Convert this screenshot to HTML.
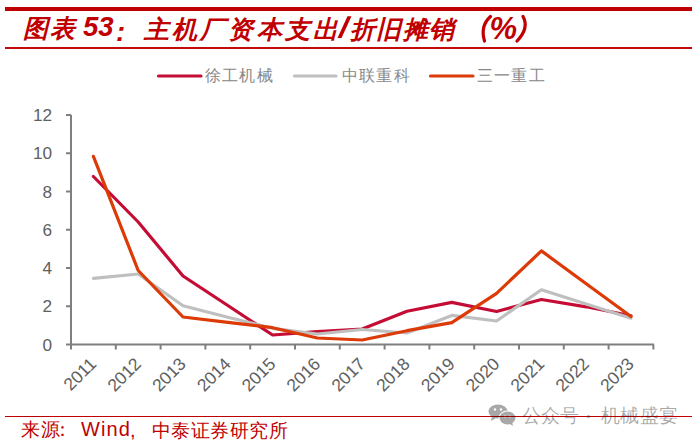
<!DOCTYPE html>
<html><head><meta charset="utf-8"><style>
html,body{margin:0;padding:0;background:#fff;width:700px;height:444px;overflow:hidden}
body{position:relative;font-family:"Liberation Sans",sans-serif}
.ab{position:absolute}
.t{font-weight:bold;font-style:italic;color:#c00000;white-space:nowrap;line-height:normal}
.leg{font-size:16px;color:#888888;letter-spacing:1.2px;white-space:nowrap;line-height:18px}
.src{font-size:19px;color:#c00000;white-space:nowrap;line-height:normal}
.wm{z-index:5;font-size:18.5px;color:rgba(0,0,0,0.34);white-space:nowrap;line-height:normal}
</style></head><body>
<div class="ab" style="left:5px;top:7px;width:687px;height:4px;background:#c00000"></div>
<span class="ab t" style="left:23px;top:12.2px;font-size:25px;letter-spacing:2px">图表</span><span class="ab t" style="left:83px;top:11px;font-size:27.5px;letter-spacing:0px">53</span><span class="ab t" style="left:116px;top:15.5px;font-size:27.5px;letter-spacing:0px">:</span><span class="ab t" style="left:143.5px;top:12.8px;font-size:25px;letter-spacing:3.3px">主机厂资本支出</span><span class="ab t" style="left:350px;top:12.6px;font-size:25px;letter-spacing:1.4px">折旧摊销</span><span class="ab t" style="left:489.5px;top:10.8px;font-size:31px;letter-spacing:0px">%</span>
<div class="ab" style="left:5px;top:47px;width:687px;height:2px;background:#c40a0a"></div>
<svg class="ab" style="left:0;top:0" width="700" height="444" viewBox="0 0 700 444">
<polygon points="337.5,38 341.5,38 351.5,16.3 347.5,16.3" fill="#c00000"/>
<path d="M490.5,16.5 Q480,26 484.5,41" stroke="#c00000" stroke-width="3.2" fill="none" stroke-linecap="round"/>
<path d="M523,16.5 Q529.5,28 517,41" stroke="#c00000" stroke-width="3.2" fill="none" stroke-linecap="round"/>
<g stroke-linecap="round" stroke-width="3.2" fill="none">
<line x1="158.5" y1="76" x2="201" y2="76" stroke="#c40c34"/>
<line x1="294.5" y1="76" x2="336" y2="76" stroke="#bfbfbf"/>
<line x1="430.5" y1="76" x2="473" y2="76" stroke="#dc3a06"/>
</g>
<g stroke="#7f7f7f" stroke-width="2" fill="none">
<line x1="71" y1="115" x2="71" y2="345.5"/>
<line x1="70" y1="344.5" x2="654" y2="344.5"/>
<line x1="71.0" y1="344.5" x2="71.0" y2="349.5"/><line x1="115.8" y1="344.5" x2="115.8" y2="349.5"/><line x1="160.6" y1="344.5" x2="160.6" y2="349.5"/><line x1="205.4" y1="344.5" x2="205.4" y2="349.5"/><line x1="250.2" y1="344.5" x2="250.2" y2="349.5"/><line x1="295.0" y1="344.5" x2="295.0" y2="349.5"/><line x1="339.8" y1="344.5" x2="339.8" y2="349.5"/><line x1="384.6" y1="344.5" x2="384.6" y2="349.5"/><line x1="429.4" y1="344.5" x2="429.4" y2="349.5"/><line x1="474.2" y1="344.5" x2="474.2" y2="349.5"/><line x1="519.0" y1="344.5" x2="519.0" y2="349.5"/><line x1="563.8" y1="344.5" x2="563.8" y2="349.5"/><line x1="608.6" y1="344.5" x2="608.6" y2="349.5"/><line x1="653.4" y1="344.5" x2="653.4" y2="349.5"/><line x1="66" y1="344.50" x2="71" y2="344.50"/><line x1="66" y1="306.25" x2="71" y2="306.25"/><line x1="66" y1="268.00" x2="71" y2="268.00"/><line x1="66" y1="229.75" x2="71" y2="229.75"/><line x1="66" y1="191.50" x2="71" y2="191.50"/><line x1="66" y1="153.25" x2="71" y2="153.25"/><line x1="66" y1="115.00" x2="71" y2="115.00"/>
</g>
<g style="font-family:'Liberation Sans',sans-serif;font-size:17.2px" fill="#606060"><text x="52" y="350.50" text-anchor="end">0</text><text x="52" y="312.25" text-anchor="end">2</text><text x="52" y="274.00" text-anchor="end">4</text><text x="52" y="235.75" text-anchor="end">6</text><text x="52" y="197.50" text-anchor="end">8</text><text x="52" y="159.25" text-anchor="end">10</text><text x="52" y="121.00" text-anchor="end">12</text></g><g style="font-family:'Liberation Sans',sans-serif;font-size:17.5px;text-rendering:geometricPrecision" fill="#606060"><text transform="translate(97.4,365) rotate(-45)" text-anchor="end">2011</text><text transform="translate(142.2,365) rotate(-45)" text-anchor="end">2012</text><text transform="translate(187.0,365) rotate(-45)" text-anchor="end">2013</text><text transform="translate(231.8,365) rotate(-45)" text-anchor="end">2014</text><text transform="translate(276.6,365) rotate(-45)" text-anchor="end">2015</text><text transform="translate(321.4,365) rotate(-45)" text-anchor="end">2016</text><text transform="translate(366.2,365) rotate(-45)" text-anchor="end">2017</text><text transform="translate(411.0,365) rotate(-45)" text-anchor="end">2018</text><text transform="translate(455.8,365) rotate(-45)" text-anchor="end">2019</text><text transform="translate(500.6,365) rotate(-45)" text-anchor="end">2020</text><text transform="translate(545.4,365) rotate(-45)" text-anchor="end">2021</text><text transform="translate(590.2,365) rotate(-45)" text-anchor="end">2022</text><text transform="translate(635.0,365) rotate(-45)" text-anchor="end">2023</text></g>
<g fill="none" stroke-width="3.2" stroke-linejoin="round" stroke-linecap="round">
<polyline points="93.4,176.5 138.2,222.0 183.0,276.0 227.8,305.5 272.6,335.0 317.4,331.6 362.2,329.0 407.0,311.3 451.8,302.4 496.6,311.5 541.4,299.5 586.2,306.8 631.0,315.8" stroke="#c40c34"/>
<polyline points="93.4,278.3 138.2,274.0 183.0,305.8 227.8,317.3 272.6,328.3 317.4,334.0 362.2,329.5 407.0,333.0 451.8,315.4 496.6,321.0 541.4,289.8 586.2,304.0 631.0,318.2" stroke="#bfbfbf"/>
<polyline points="93.4,156.3 138.2,270.5 183.0,317.0 227.8,322.3 272.6,327.7 317.4,338.0 362.2,340.0 407.0,330.7 451.8,322.7 496.6,293.3 541.4,250.9 586.2,283.7 631.0,316.5" stroke="#dc3a06"/>
</g>
</svg>
<div class="ab leg" style="left:205px;top:67px">徐工机械</div>
<div class="ab leg" style="left:342px;top:67px">中联重科</div>
<div class="ab leg" style="left:477px;top:67px">三一重工</div>
<span class="ab wm" style="left:522px;top:402.6px">公众号</span><div class="ab" style="z-index:5;left:587.3px;top:414.5px;width:3px;height:3px;border-radius:50%;background:rgba(0,0,0,0.34)"></div><span class="ab wm" style="left:601px;top:402.6px;letter-spacing:0.4px">机械盛宴</span>
<svg class="ab" style="left:486px;top:402px;z-index:5" width="32" height="26" viewBox="0 0 32 26">
<defs><mask id="wc" maskUnits="userSpaceOnUse" x="0" y="0" width="32" height="26">
<ellipse cx="12" cy="9.5" rx="9.5" ry="7" fill="#fff"/>
<path d="M6 14 L5 19 L10 16 Z" fill="#fff"/>
<ellipse cx="21.5" cy="16" rx="9" ry="7.5" fill="#000"/>
<ellipse cx="21.5" cy="16" rx="8" ry="6.5" fill="#fff"/>
<path d="M26 20 L27 24 L23 21.5 Z" fill="#fff"/>
<circle cx="9" cy="7.5" r="1.2" fill="#000"/><circle cx="15" cy="7.5" r="1.2" fill="#000"/>
<circle cx="19" cy="14.5" r="1" fill="#000"/><circle cx="24" cy="14.5" r="1" fill="#000"/>
</mask></defs>
<rect x="0" y="0" width="32" height="26" fill="#000" fill-opacity="0.34" mask="url(#wc)"/>
</svg>
<div class="ab" style="left:5px;top:415.5px;width:687px;height:1.5px;background:#c00000"></div>
<span class="ab src" style="left:20.5px;top:417px;letter-spacing:1.5px">来源</span><span class="ab src" style="left:53px;top:417px">：</span><span class="ab src" style="left:81px;top:417.8px;font-size:20px;letter-spacing:1.1px">Wind</span><span class="ab src" style="left:130px;top:418.8px;font-size:20px">,</span><span class="ab src" style="left:151.5px;top:417.5px;letter-spacing:0.6px">中泰证券研究所</span>
</body></html>
